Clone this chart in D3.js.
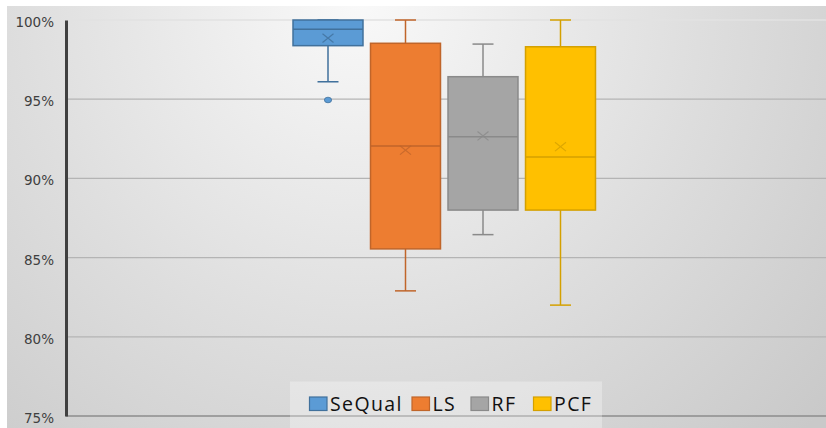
<!DOCTYPE html>
<html><head><meta charset="utf-8">
<script src="https://cdn.jsdelivr.net/npm/d3@7"></script>
<style>html,body{margin:0;padding:0;background:#fff;}svg{display:block;}</style>
</head><body>
<svg id="chart" width="826" height="428"></svg>
<script>
const series = ["SeQual", "LS", "RF", "PCF"];
const fills = ["#5B9BD5", "#ED7D31", "#A5A5A5", "#FFC000"];
const strokes = ["#41719C", "#C0652A", "#8A8A8A", "#D4A000"];
const whiskerLow = [96.1, 82.9, 86.45, 82.0];
const q1 = [98.38, 85.55, 88.0, 88.0];
const median = [99.42, 92.05, 92.63, 91.35];
const q3 = [100.0, 98.53, 96.42, 98.31];
const whiskerHigh = [100.0, 100.0, 98.48, 100.0];
const means = [98.86, 91.78, 92.68, 92.0];
const outliers = [[94.95], [], [], []];
const yTicks = [75, 80, 85, 90, 95, 100];

const svg = d3.select("#chart");
const W = 826, H = 428;

const defs = svg.append("defs");
const grad = defs.append("radialGradient").attr("id", "bg")
  .attr("gradientUnits", "userSpaceOnUse")
  .attr("cx", 360).attr("cy", 0).attr("r", 620);
grad.append("stop").attr("offset", "0%").attr("stop-color", "#f9f9f9");
grad.append("stop").attr("offset", "55%").attr("stop-color", "#dedede");
grad.append("stop").attr("offset", "100%").attr("stop-color", "#c9c9c9");

svg.append("rect").attr("x", 7).attr("y", 6).attr("width", W - 7).attr("height", H - 6).attr("fill", "url(#bg)");

const y = d3.scaleLinear().domain([75, 100]).range([416, 20]);
const x = d3.scaleBand().domain(series).range([289.25, 599.25]).paddingInner(0.097).paddingOuter(0.0485);
const plotLeft = 66, plotRight = 826;

// gridlines
svg.append("g").selectAll("line").data(yTicks.filter(t => t > 75)).join("line")
  .attr("x1", plotLeft).attr("x2", plotRight)
  .attr("y1", d => y(d)).attr("y2", d => y(d))
  .attr("stroke", d => d === 100 ? "#e2e2e2" : "#b4b4b4").attr("stroke-width", 1.3);
svg.append("line").attr("x1", plotLeft).attr("x2", plotRight).attr("y1", y(75)).attr("y2", y(75))
  .attr("stroke", "#8c8c8c").attr("stroke-width", 1.3);

// y axis
const yAxis = d3.axisLeft(y).tickValues(yTicks).tickFormat(d => d + "%").tickSize(0).tickPadding(12);
const ga = svg.append("g").attr("transform", `translate(${plotLeft},0)`).call(yAxis);
ga.select(".domain").attr("stroke", "#404040").attr("stroke-width", 3);
ga.selectAll("text").attr("font-family", "'DejaVu Sans', sans-serif").attr("font-size", 13.5)
  .attr("fill", "#404040").attr("dy", "0.48em");

// boxes
const g = svg.append("g");
series.forEach((s, i) => {
  const bx = x(s), bw = x.bandwidth(), cx = bx + bw / 2, cap = 21;
  const sk = strokes[i];
  g.append("line").attr("x1", cx).attr("x2", cx).attr("y1", y(q3[i])).attr("y2", y(whiskerHigh[i])).attr("stroke", sk).attr("stroke-width", 1.5);
  g.append("line").attr("x1", cx).attr("x2", cx).attr("y1", y(q1[i])).attr("y2", y(whiskerLow[i])).attr("stroke", sk).attr("stroke-width", 1.5);
  g.append("line").attr("x1", cx - cap / 2).attr("x2", cx + cap / 2).attr("y1", y(whiskerHigh[i])).attr("y2", y(whiskerHigh[i])).attr("stroke", sk).attr("stroke-width", 1.5);
  g.append("line").attr("x1", cx - cap / 2).attr("x2", cx + cap / 2).attr("y1", y(whiskerLow[i])).attr("y2", y(whiskerLow[i])).attr("stroke", sk).attr("stroke-width", 1.5);
  g.append("rect").attr("x", bx).attr("y", y(q3[i])).attr("width", bw).attr("height", y(q1[i]) - y(q3[i]))
    .attr("fill", fills[i]).attr("stroke", sk).attr("stroke-width", 1.5);
  g.append("line").attr("x1", bx).attr("x2", bx + bw).attr("y1", y(median[i])).attr("y2", y(median[i])).attr("stroke", sk).attr("stroke-width", 1.5);
  const my = y(means[i]), m = 5.5;
  g.append("path").attr("d", `M${cx - m},${my - m * 0.8}L${cx + m},${my + m * 0.8}M${cx - m},${my + m * 0.8}L${cx + m},${my - m * 0.8}`)
    .attr("stroke", sk).attr("stroke-width", 1.2).attr("fill", "none").attr("opacity", 0.8);
  outliers[i].forEach(o => {
    g.append("ellipse").attr("cx", cx).attr("cy", y(o)).attr("rx", 3.6).attr("ry", 2.8)
      .attr("fill", fills[i]).attr("stroke", sk).attr("stroke-width", 0.8);
  });
});

// legend
const lg = svg.append("g");
lg.append("rect").attr("x", 290).attr("y", 381.5).attr("width", 312).attr("height", 46.5)
  .attr("fill", "#ffffff").attr("fill-opacity", 0.3);
const legendX = [309.5, 412, 471, 533.5];
series.forEach((s, i) => {
  lg.append("rect").attr("x", legendX[i]).attr("y", 397).attr("width", 17.5).attr("height", 13.5)
    .attr("fill", fills[i]).attr("stroke", strokes[i]).attr("stroke-width", 1.2);
  lg.append("text").attr("x", legendX[i] + 20.5).attr("y", 410.5).text(s)
    .attr("font-family", "'Open Sans', sans-serif").attr("font-size", 19.5).attr("letter-spacing", 1.4).attr("fill", "#111");
});
</script>
</body></html>
